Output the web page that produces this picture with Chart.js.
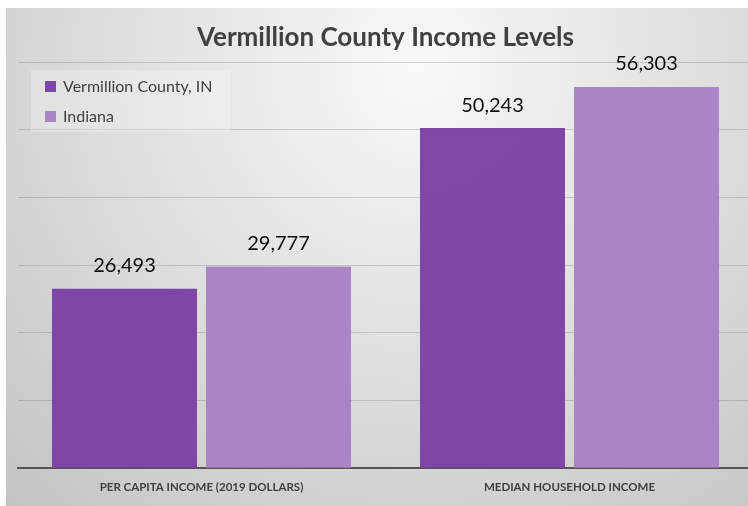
<!DOCTYPE html>
<html>
<head>
<meta charset="utf-8">
<title>Vermillion County Income Levels</title>
<script src="https://cdn.jsdelivr.net/npm/chart.js@4/dist/chart.umd.min.js"></script>
<style>
    html, body { margin: 0; padding: 0; background: #fff; overflow: hidden; }
    #wrap { position: absolute; left: 6px; top: 8px; width: 760px; height: 500px; }
</style>
</head>
<body>
<div id="wrap"><canvas id="income-chart" width="760" height="500"></canvas></div>
<script>
const categories = ['PER CAPITA INCOME (2019 DOLLARS)', 'MEDIAN HOUSEHOLD INCOME'];
const countyValues = [26493, 50243];
const indianaValues = [29777, 56303];
const seriesNames = ['Vermillion County, IN', 'Indiana'];
const seriesColors = ['rgba(122, 62, 165, 0.95)', 'rgba(166, 129, 195, 0.95)'];

const ctx = document.getElementById('income-chart').getContext('2d');
const fontFamily = 'Lato, "Noto Sans", sans-serif';

// soft grey radial backdrop behind everything
const backdrop = {
    id: 'backdrop',
    beforeDraw(chart) {
        const c = chart.ctx;
        const g = c.createRadialGradient(410, 60, 0, 410, 60, 600);
        g.addColorStop(0, '#f9f9f9');
        g.addColorStop(1, '#c3c3c3');
        c.save();
        c.fillStyle = g;
        c.fillRect(0, 0, chart.width, chart.height);
        c.restore();
    }
};

// numbers above each bar
const valueLabels = {
    id: 'valueLabels',
    afterDatasetsDraw(chart) {
        const c = chart.ctx;
        c.save();
        c.font = '20px ' + fontFamily;
        c.fillStyle = '#0d0d0d';
        c.textAlign = 'center';
        c.textBaseline = 'bottom';
        chart.data.datasets.forEach((ds, i) => {
            chart.getDatasetMeta(i).data.forEach((bar, j) => {
                c.fillText(ds.data[j].toLocaleString('en-US'), bar.x, bar.y - 13);
            });
        });
        c.restore();
    }
};

// boxed legend in the upper left corner of the plot
const cornerLegend = {
    id: 'cornerLegend',
    afterDraw(chart) {
        const c = chart.ctx;
        c.save();
        c.fillStyle = 'rgba(255, 255, 255, 0.25)';
        c.fillRect(25, 62, 200, 62);
        c.font = '16px ' + fontFamily;
        c.textBaseline = 'middle';
        chart.data.datasets.forEach((ds, i) => {
            const y = 78 + i * 30;
            c.fillStyle = ds.backgroundColor;
            c.fillRect(39, y - 5, 11, 11);
            c.fillStyle = '#404040';
            c.fillText(ds.label, 57, y + 1);
        });
        c.restore();
    }
};

new Chart(ctx, {
    type: 'bar',
    data: {
        labels: categories,
        datasets: [
            { label: seriesNames[0], data: countyValues, backgroundColor: seriesColors[0] },
            { label: seriesNames[1], data: indianaValues, backgroundColor: seriesColors[1] }
        ]
    },
    options: {
        responsive: false,
        animation: false,
        events: [],
        categoryPercentage: 0.837,
        barPercentage: 0.9416,
        layout: { padding: { left: 11.5, right: 12.5, top: 0, bottom: 10 } },
        plugins: {
            legend: { display: false },
            tooltip: { enabled: false },
            title: {
                display: true,
                text: 'Vermillion County Income Levels',
                color: '#404040',
                font: { family: fontFamily, size: 26, weight: 'bold' },
                padding: { top: 14.4, bottom: 8.4 }
            }
        },
        scales: {
            x: {
                grid: { display: false },
                border: { display: true, color: '#555', width: 2 },
                ticks: {
                    color: '#404040',
                    padding: 4,
                    maxRotation: 0,
                    font: { family: fontFamily, size: 11.5, weight: 'bold' }
                }
            },
            y: {
                min: 0,
                max: 60000,
                ticks: { display: false, stepSize: 10000 },
                grid: { color: 'rgba(0, 0, 0, 0.14)', drawTicks: false },
                border: { display: false }
            }
        }
    },
    plugins: [backdrop, valueLabels, cornerLegend]
});
</script>
</body>
</html>
